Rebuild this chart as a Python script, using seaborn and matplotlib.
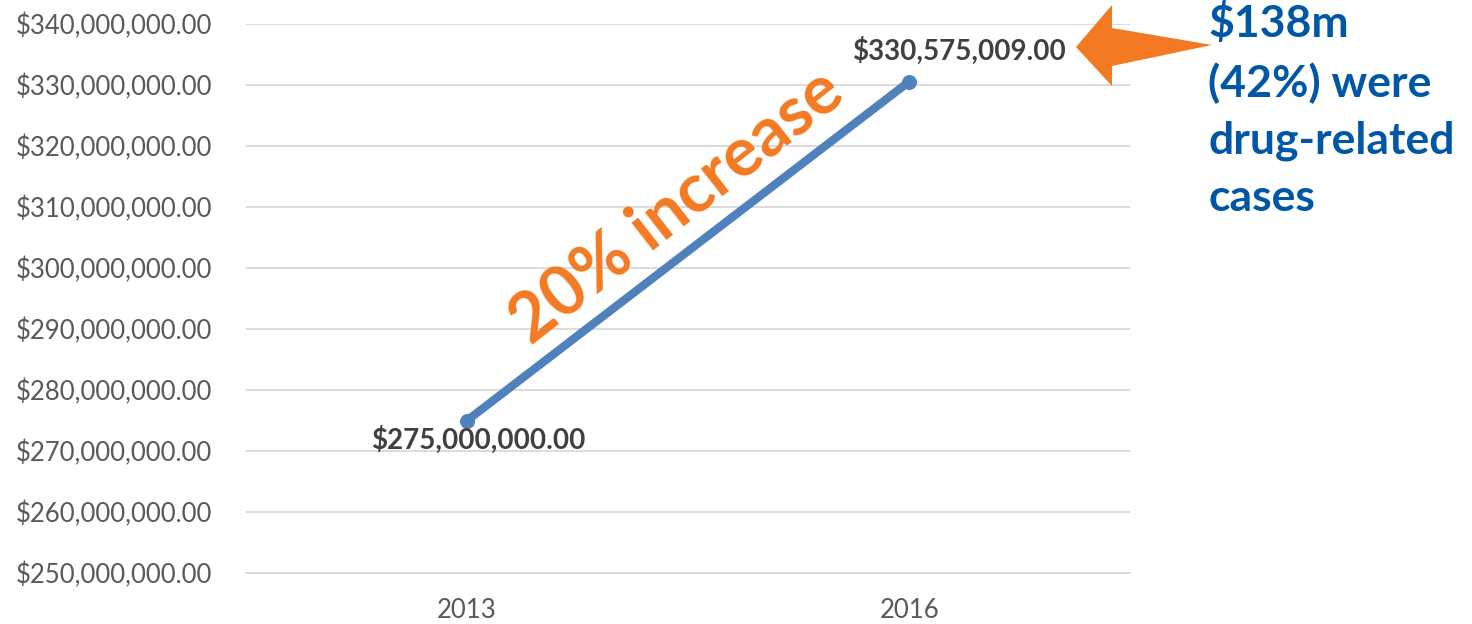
import numpy as np
import pandas as pd
import seaborn as sns
import matplotlib.pyplot as plt
from matplotlib.patches import Polygon
from matplotlib.ticker import FuncFormatter

# Chart data
years = ["2013", "2016"]
totals = [275000000.00, 330575009.00]
value_labels = ["$275,000,000.00", "$330,575,009.00"]
y_ticks = [250e6, 260e6, 270e6, 280e6, 290e6, 300e6, 310e6, 320e6, 330e6, 340e6]
note_text = "$138m\n(42%) were\ndrug-related\ncases"
trend_text = "20% increase"

df = pd.DataFrame({"Year": years, "Total": totals})

sns.set_style("white")
plt.rcParams['font.family'] = ['Lato', 'DejaVu Sans']

fig = plt.figure(figsize=(14.72, 6.24), dpi=100)
ax = fig.add_axes([0.167, 0.0817, 0.601, 0.8798])

line_col = "#4F81BD"
sns.lineplot(data=df, x="Year", y="Total", ax=ax, color=line_col,
             linewidth=6, marker="o", markersize=10,
             markeredgecolor=line_col, solid_capstyle="round")

ax.set_xlim(-0.5, 1.5)
ax.set_ylim(250e6, 340e6)
ax.set_yticks(y_ticks)
ax.yaxis.set_major_formatter(FuncFormatter(lambda v, p: "${:,.2f}".format(v)))
ax.grid(axis="y", color="#d9d9d9", linewidth=1.3)
ax.set_axisbelow(True)
for s in ["top", "right", "left"]:
    ax.spines[s].set_visible(False)
ax.spines["bottom"].set_color("#d9d9d9")
ax.spines["bottom"].set_linewidth(1.3)
ax.tick_params(axis="both", length=0, labelsize=18.5, labelcolor="#595959")
ax.tick_params(axis="y", pad=24)
ax.tick_params(axis="x", pad=18)
ax.set_xlabel("")
ax.set_ylabel("")

# data labels
ax.annotate(value_labels[0], (0, totals[0]), xytext=(8, -14),
            textcoords="offset points", ha="center", va="center",
            fontsize=20, fontweight="bold", color="#404040")
ax.annotate(value_labels[1], (1, totals[1]), xytext=(36, 22),
            textcoords="offset points", ha="center", va="center",
            fontsize=20, fontweight="bold", color="#404040")

# trend text along the line
ax.text(0.4876, 0.667, trend_text, transform=ax.transAxes, rotation=38,
        ha="center", va="center", fontsize=49, fontweight="bold",
        color="#F37A23", rotation_mode="anchor")

# orange arrow pointing at the 2016 value
W, H = 1472, 624
pts = [(1076, 47), (1112, 5), (1112, 28), (1212, 45), (1112, 66), (1112, 86)]
arrow = Polygon([(x / W, 1 - y / H) for x, y in pts], closed=True,
                transform=fig.transFigure, facecolor="#F37A23",
                edgecolor="none", clip_on=False)
fig.patches.append(arrow)

fig.text(1208 / W, 1 - 2 / H, note_text, ha="left", va="top",
         fontsize=32, fontweight="bold", color="#0057A5", linespacing=1.52)

plt.savefig("out.png", dpi=100)
